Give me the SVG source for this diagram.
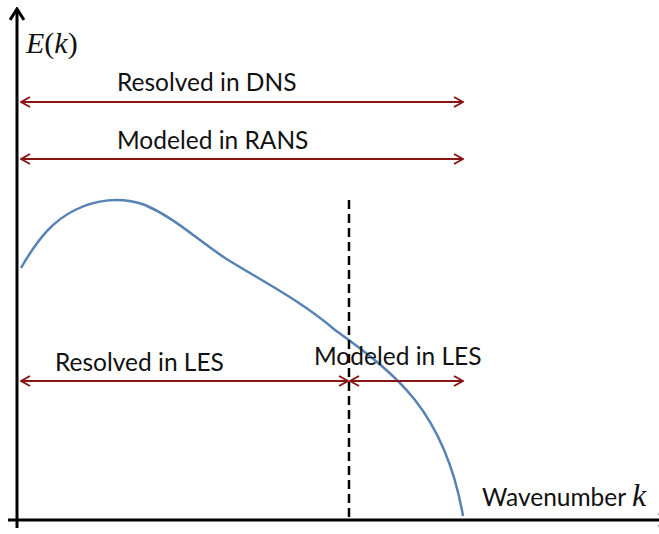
<svg xmlns="http://www.w3.org/2000/svg" width="659" height="534" viewBox="0 0 659 534">
<defs>
<marker id="ah" viewBox="0 0 12 12" refX="11" refY="6" markerWidth="12" markerHeight="12" markerUnits="userSpaceOnUse" orient="auto-start-reverse">
<path d="M2,1 L11,6 L2,11" fill="none" stroke="#8B1414" stroke-width="2"/>
</marker>
<marker id="axh" viewBox="0 0 16 16" refX="14" refY="8" markerWidth="16" markerHeight="16" markerUnits="userSpaceOnUse" orient="auto">
<path d="M3,1 L14,8 L3,15" fill="none" stroke="#000" stroke-width="3"/>
</marker>
</defs>
<style>
.lbl{font-family:Lato,"Noto Sans","Liberation Sans",sans-serif;font-size:24.5px;fill:#111}
.math{font-family:"Liberation Serif","DejaVu Serif",serif;font-size:30px;fill:#111}
.it{font-style:italic}
.arr{stroke:#8B1414;stroke-width:2;fill:none}
</style>
<g id="axes">
<line x1="17" y1="528" x2="17" y2="9" stroke="#000" stroke-width="3" marker-end="url(#axh)"/>
<line x1="8" y1="520" x2="670" y2="520" stroke="#000" stroke-width="3" marker-end="url(#axh)"/>
<text class="math" x="26" y="53"><tspan class="it">E</tspan>(<tspan class="it">k</tspan>)</text>
<text class="lbl" x="482" y="506">Wavenumber <tspan class="math it" style="font-size:32px">k</tspan></text>
</g>
<g id="curve">
<path d="M21,268 C40,235 55,220 75,210 C95,200 120,196 145,205 C175,218 195,238 225,258 C260,280 300,300 335,330 C370,355 395,375 415,400 C440,432 455,470 463,516" fill="none" stroke="#5682B4" stroke-width="2.5"/>
</g>
<g id="cutoff">
<line x1="349" y1="200" x2="349" y2="520" stroke="#000" stroke-width="2.5" stroke-dasharray="9,5"/>
</g>
<g id="connectors">
<line class="arr" x1="21" y1="102" x2="463" y2="102" marker-start="url(#ah)" marker-end="url(#ah)"/>
<line class="arr" x1="21" y1="159" x2="463" y2="159" marker-start="url(#ah)" marker-end="url(#ah)"/>
<line class="arr" x1="21" y1="381" x2="348" y2="381" marker-start="url(#ah)" marker-end="url(#ah)"/>
<line class="arr" x1="350" y1="381" x2="463" y2="381" marker-start="url(#ah)" marker-end="url(#ah)"/>
</g>
<g id="dns"><text class="lbl" x="117" y="91">Resolved in DNS</text></g>
<g id="rans"><text class="lbl" x="117" y="149">Modeled in RANS</text></g>
<g id="les-res"><text class="lbl" x="55" y="371">Resolved in LES</text></g>
<g id="les-mod"><text class="lbl" x="314" y="365">Modeled in LES</text></g>
</svg>
